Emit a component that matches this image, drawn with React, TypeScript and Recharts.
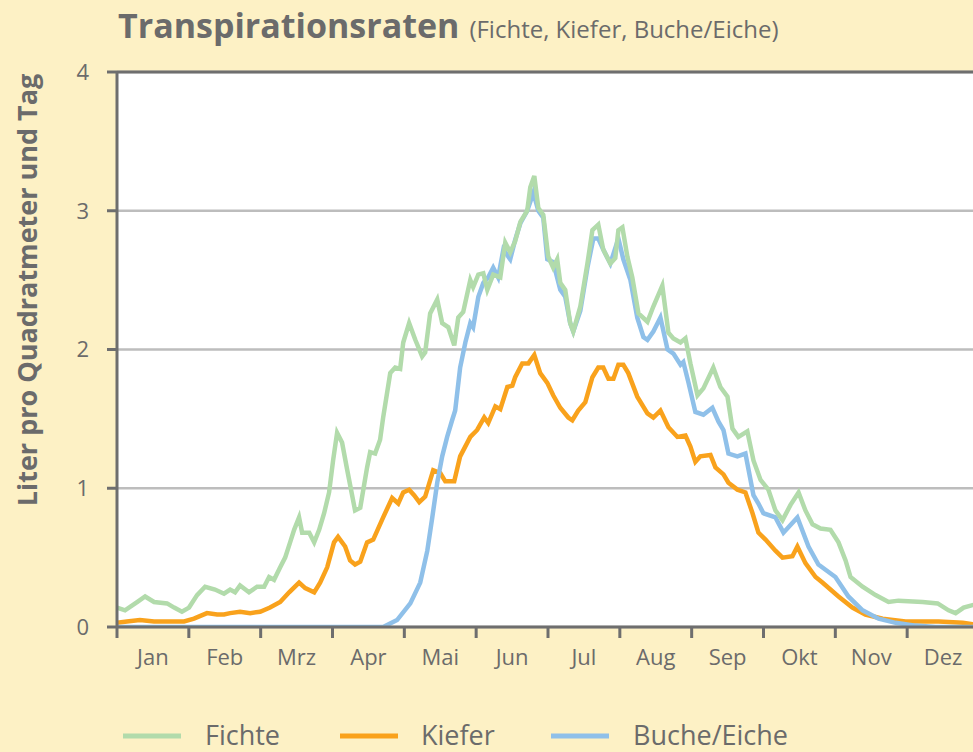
import React from 'react'
import { LineChart, Line, XAxis, YAxis, CartesianGrid, ReferenceLine } from 'recharts'

// day of year (0..365) -> liter per m² and day
const fichte: [number, number][] = [
  [0, 0.14], [3.4, 0.12], [8.5, 0.18], [11.9, 0.22], [15.7, 0.18], [21.2, 0.17], [24.2, 0.14],
  [27.5, 0.11], [30.5, 0.14], [33.9, 0.23], [37.3, 0.29], [41.5, 0.27], [45.3, 0.24], [47.9, 0.27],
  [50, 0.25], [52.1, 0.3], [55.9, 0.25], [59.3, 0.29], [62.3, 0.29], [64.4, 0.36], [66.5, 0.34],
  [69.1, 0.43], [71.2, 0.5], [73.3, 0.61], [75, 0.7], [77.1, 0.79], [78.4, 0.68], [81.4, 0.68],
  [83.5, 0.61], [85.6, 0.7], [87.7, 0.82], [89.8, 0.97], [91.5, 1.2], [93.2, 1.4], [95.3, 1.33],
  [97.5, 1.13], [100.8, 0.84], [103, 0.86], [105.9, 1.15], [107.2, 1.26], [109.3, 1.25], [111.4, 1.35],
  [112.7, 1.51], [115.7, 1.83], [117.8, 1.87], [119.9, 1.86], [121.2, 2.05], [123.7, 2.19], [126.3, 2.07],
  [129.2, 1.95], [130.5, 1.98], [132.6, 2.26], [135.6, 2.36], [137.7, 2.19], [140.3, 2.16], [142.8, 2.03],
  [144.5, 2.23], [146.6, 2.27], [149.6, 2.5], [150.8, 2.45], [153, 2.54], [155.1, 2.55], [156.8, 2.43],
  [159.3, 2.54], [162.3, 2.52], [164.4, 2.77], [166.5, 2.7], [168.6, 2.78], [170.8, 2.92], [173.7, 3.0],
  [175, 3.17], [176.7, 3.25], [178.4, 3.02], [180.5, 2.97], [182.6, 2.67], [184.7, 2.59], [186.4, 2.65],
  [187.7, 2.48], [189.8, 2.43], [191.9, 2.19], [193.2, 2.13], [196.2, 2.31], [199.2, 2.62], [201.3, 2.86],
  [203.8, 2.9], [205.9, 2.72], [208.9, 2.62], [211, 2.66], [212.3, 2.86], [214, 2.88], [216.1, 2.67],
  [218.2, 2.52], [220.8, 2.26], [224.6, 2.2], [227.1, 2.31], [230.9, 2.46], [233.5, 2.12], [235.6, 2.08],
  [238.6, 2.05], [240.7, 2.08], [242.8, 1.9], [245.8, 1.67], [248.3, 1.72], [252.5, 1.87], [255.5, 1.73],
  [258.5, 1.66], [260.6, 1.43], [263.1, 1.37], [266.9, 1.41], [269.5, 1.2], [272.5, 1.06], [275.8, 0.99],
  [278.8, 0.84], [281.8, 0.77], [285.2, 0.88], [288.6, 0.97], [291.5, 0.84], [294.5, 0.74], [297.9, 0.71],
  [302.1, 0.7], [305.5, 0.61], [308.5, 0.48], [310.6, 0.36], [315.7, 0.29], [321.2, 0.23], [326.7, 0.18],
  [330.9, 0.19], [341.1, 0.18], [347.5, 0.17], [352.1, 0.12], [355.1, 0.1], [358.5, 0.14], [362.7, 0.16],
]

const kiefer: [number, number][] = [
  [0, 0.03], [4.2, 0.04], [9.7, 0.05], [15.7, 0.04], [22.5, 0.04], [28.4, 0.04], [32.6, 0.06],
  [38.1, 0.1], [42.4, 0.09], [45.3, 0.09], [47.9, 0.1], [52.1, 0.11], [56.4, 0.1], [60.6, 0.11],
  [64.8, 0.14], [69.1, 0.18], [72.9, 0.25], [77.1, 0.32], [79.7, 0.28], [83.5, 0.25], [86, 0.32],
  [89, 0.43], [91.9, 0.61], [93.6, 0.65], [96.6, 0.58], [98.7, 0.48], [100.8, 0.45], [103, 0.47],
  [105.9, 0.61], [108.5, 0.63], [112.7, 0.79], [116.5, 0.93], [119.1, 0.89], [121.2, 0.97], [123.7, 0.99],
  [125.8, 0.95], [128, 0.9], [130.5, 0.94], [133.9, 1.13], [136.9, 1.11], [139, 1.05], [142.8, 1.05],
  [145.3, 1.23], [149.6, 1.37], [152.5, 1.42], [155.5, 1.51], [157.2, 1.47], [160.2, 1.59], [162.3, 1.57],
  [165.3, 1.73], [167.4, 1.74], [168.6, 1.8], [171.6, 1.9], [174.2, 1.9], [176.7, 1.96], [179.2, 1.83],
  [182.2, 1.76], [184.7, 1.67], [187.7, 1.58], [191.1, 1.51], [192.8, 1.49], [195.3, 1.56], [198.3, 1.62],
  [201.3, 1.8], [203.8, 1.87], [205.9, 1.87], [208.1, 1.79], [210.2, 1.79], [212.3, 1.89], [214.4, 1.89],
  [216.5, 1.83], [220.3, 1.66], [224.6, 1.54], [227.1, 1.51], [230.1, 1.56], [233.5, 1.44], [237.3, 1.37],
  [240.7, 1.38], [242.8, 1.3], [244.9, 1.19], [247, 1.23], [251.3, 1.24], [253.4, 1.15], [256.8, 1.1],
  [258.9, 1.04], [262.7, 0.99], [266.1, 0.97], [269.1, 0.82], [271.6, 0.68], [274.6, 0.63], [278.8, 0.55],
  [281.8, 0.5], [286, 0.51], [288.1, 0.58], [291.5, 0.46], [295.8, 0.36], [298.7, 0.32], [305.5, 0.22],
  [311.4, 0.14], [316.9, 0.09], [324.2, 0.06], [333.9, 0.04], [347.9, 0.04], [358.1, 0.03], [362.7, 0.02],
]

const bucheEiche: [number, number][] = [
  [0, 0], [60, 0], [112.7, 0], [118.6, 0.05], [124.2, 0.17], [128.4, 0.32], [131.4, 0.55],
  [133.5, 0.79], [135.6, 1.04], [137.7, 1.23], [139.8, 1.37], [141.9, 1.49], [143.2, 1.56], [145.3, 1.87],
  [147.5, 2.05], [149.6, 2.19], [150.8, 2.16], [153, 2.38], [155.1, 2.48], [157.2, 2.52], [159.3, 2.59],
  [161.4, 2.52], [163.6, 2.72], [166.5, 2.65], [168.6, 2.79], [170.8, 2.91], [173.7, 3.0], [176.3, 3.13],
  [178.4, 3.0], [180.5, 2.95], [182.2, 2.65], [184.7, 2.63], [187.7, 2.43], [189.8, 2.38], [191.9, 2.19],
  [193.2, 2.13], [196.2, 2.28], [199.2, 2.59], [201.7, 2.8], [203.8, 2.8], [205.9, 2.72], [208.9, 2.62],
  [212.3, 2.8], [214.4, 2.65], [217.4, 2.5], [220.3, 2.23], [222.9, 2.09], [224.6, 2.07], [227.1, 2.13],
  [230.1, 2.23], [233.1, 2.0], [235.6, 1.97], [238.6, 1.89], [239.8, 1.91], [242, 1.76], [244.9, 1.55],
  [248.3, 1.53], [252.1, 1.58], [254.7, 1.48], [256.8, 1.42], [258.9, 1.25], [262.7, 1.23], [266.1, 1.25],
  [269.5, 0.95], [271.6, 0.89], [273.7, 0.82], [278.8, 0.79], [282.2, 0.68], [288.1, 0.79], [292.8, 0.58],
  [297, 0.45], [304.2, 0.36], [309.7, 0.22], [315.7, 0.12], [322.5, 0.06], [329.7, 0.03], [338.1, 0.01],
  [346.6, 0], [362.7, 0],
]

const months = ['Jan', 'Feb', 'Mrz', 'Apr', 'Mai', 'Jun', 'Jul', 'Aug', 'Sep', 'Okt', 'Nov', 'Dez']
const monthTicks = Array.from({ length: 13 }, (_, i) => (i * 365) / 12)
const yTicks = [0, 1, 2, 3, 4]

const toRows = (pts: [number, number][]) => pts.map(([day, v]) => ({ day, v }))

const GREEN = '#b2dbab'
const ORANGE = '#f9a21c'
const BLUE = '#8fc0e9'
const TEXT = '#6b6b6b'
const AXIS = '#6e6e6e'
const BG = '#fdf1c5'
const FONT = '"Open Sans", Lato, sans-serif'

const CHART_W = 990
const LEFT = 117
const RIGHT_M = 11
const HALF_MONTH = (CHART_W - LEFT - RIGHT_M) / 24

const MonthTick = (props: any) => {
  const { x, y, index } = props
  if (index >= 12) return null
  return (
    <text x={x + HALF_MONTH} y={y + 19} textAnchor="middle" fill={TEXT} fontSize={22} fontFamily={FONT}>
      {months[index]}
    </text>
  )
}

export default function App() {
  return (
    <div style={{ position: 'absolute', left: 0, top: 0, width: 973, height: 752, background: BG, overflow: 'hidden' }}>
      <LineChart
        width={CHART_W}
        height={752}
        margin={{ top: 72, right: RIGHT_M, bottom: 85, left: 0 }}
      >
        <CartesianGrid vertical={false} stroke="#bdbdbd" strokeWidth={2.5} fill="#ffffff" />
        <XAxis
          type="number"
          dataKey="day"
          domain={[0, 365]}
          ticks={monthTicks}
          interval={0}
          height={40}
          axisLine={{ stroke: AXIS, strokeWidth: 3 }}
          tickLine={{ stroke: AXIS, strokeWidth: 3 }}
          tickSize={11}
          tickMargin={8}
          tick={<MonthTick />}
          allowDataOverflow
        />
        <YAxis
          domain={[0, 4]}
          ticks={yTicks}
          width={LEFT}
          axisLine={{ stroke: AXIS, strokeWidth: 3 }}
          tickLine={{ stroke: AXIS, strokeWidth: 3 }}
          tickSize={10}
          tickMargin={18}
          tick={{ fill: TEXT, fontSize: 22, fontFamily: FONT }}
          allowDataOverflow
        />
        <ReferenceLine y={4} stroke={AXIS} strokeWidth={3} />
        <Line data={toRows(kiefer)} dataKey="v" type="linear" stroke={ORANGE} strokeWidth={4.5} dot={false} isAnimationActive={false} />
        <Line data={toRows(bucheEiche)} dataKey="v" type="linear" stroke={BLUE} strokeWidth={4.5} dot={false} isAnimationActive={false} />
        <Line data={toRows(fichte)} dataKey="v" type="linear" stroke={GREEN} strokeWidth={4.5} dot={false} isAnimationActive={false} />
      </LineChart>
      <svg width={973} height={752} style={{ position: 'absolute', left: 0, top: 0, pointerEvents: 'none' }}>
        <text x={118} y={38} fill={TEXT} fontFamily={FONT}>
          <tspan fontSize={34} fontWeight="bold">Transpirationsraten</tspan>
          <tspan fontSize={24} dx={10}>(Fichte, Kiefer, Buche/Eiche)</tspan>
        </text>
        <text
          transform="translate(37, 290) rotate(-90)"
          textAnchor="middle"
          fill={TEXT}
          fontFamily={FONT}
          fontSize={27}
          fontWeight="bold"
        >
          Liter pro Quadratmeter und Tag
        </text>
        <line x1={123} x2={181} y1={736} y2={736} stroke={GREEN} strokeWidth={5} />
        <text x={205} y={745} fill={TEXT} fontFamily={FONT} fontSize={27}>Fichte</text>
        <line x1={340} x2={398} y1={736} y2={736} stroke={ORANGE} strokeWidth={5} />
        <text x={421} y={745} fill={TEXT} fontFamily={FONT} fontSize={27}>Kiefer</text>
        <line x1={551} x2={609} y1={736} y2={736} stroke={BLUE} strokeWidth={5} />
        <text x={633} y={745} fill={TEXT} fontFamily={FONT} fontSize={27}>Buche/Eiche</text>
      </svg>
    </div>
  )
}
